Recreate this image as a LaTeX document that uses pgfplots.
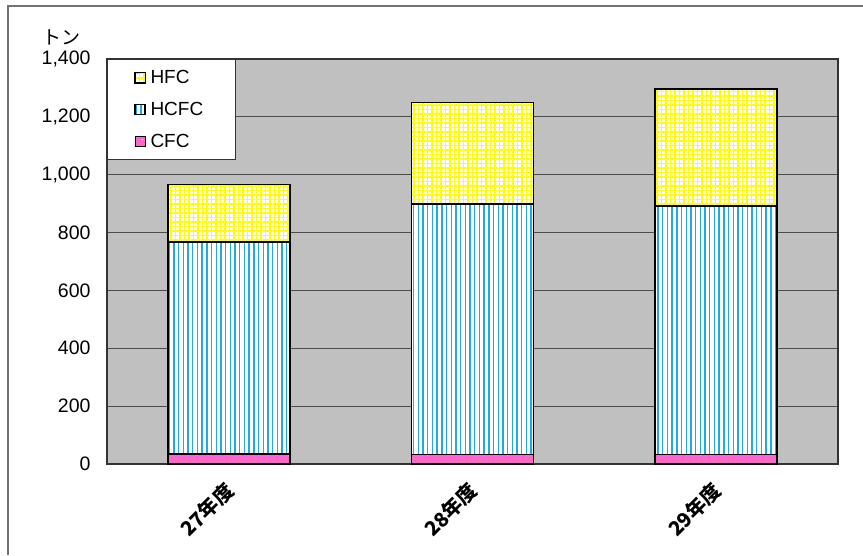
\documentclass[border=0pt]{standalone}
\usepackage{pgfplots}
\pgfplotsset{compat=1.18}
\usepackage{fontspec}
\setmainfont{Liberation Sans}
\newfontfamily\cjk{Noto Sans CJK JP}
\usetikzlibrary{patterns.meta}
\definecolor{hcfcblue}{RGB}{30,170,230}
\definecolor{cfcpink}{RGB}{255,102,204}
\definecolor{hfcyellow}{RGB}{255,255,0}
\definecolor{plotgray}{RGB}{192,192,192}

\begin{document}
\begin{tikzpicture}
\useasboundingbox (0,0) rectangle (863pt,555pt);
\draw[black!55, line width=1.5pt] (8pt,0pt) -- (8pt,549pt) -- (863pt,549pt);
\node[font=\fontsize{19}{21}\cjk] at (61pt,518pt) {トン};
\begin{axis}[
    at={(107pt,91pt)}, anchor=south west,
    width=731pt, height=405pt, scale only axis,
    ybar stacked, bar width=122pt,
    xmin=-0.5, xmax=2.5,
    ymin=0, ymax=1400,
    ytick={0,200,...,1400},
    xtick={0,1,2},
    xticklabels={27年度,28年度,29年度},
    major tick length=0pt,
    axis background/.style={fill=plotgray},
    axis line style={black!80, line width=1.5pt},
    ymajorgrids, grid style={black!70, line width=1.2pt},
    /pgf/number format/1000 sep={,},
    /pgf/number format/assume math mode=true,
    yticklabel style={font=\fontsize{19.5}{21}\selectfont, xshift=-13pt},
    xticklabel style={font=\fontsize{20}{22}\cjk\bfseries, rotate=45, anchor=east, xshift=-12pt, yshift=-17pt},
    legend style={at={(0,1)}, anchor=north west, draw=black!80, line width=1pt,
        fill=white, font=\fontsize{19}{21}\selectfont,
        inner xsep=27pt, inner ysep=9pt, row sep=13pt,
        nodes={inner xsep=5pt}},
    legend cell align=left,
    reverse legend,
    legend image code/.code={\draw[#1, draw=black, line width=1pt] (0pt,-5pt) rectangle (10pt,5pt);},
]
\addplot[draw=black, line width=1.5pt, fill=cfcpink,
    postaction={pattern={Dots[distance=13pt, radius=0.8pt]}, pattern color=white!85!cfcpink}]
    coordinates {(0,35) (1,32) (2,33)};
\addlegendentry{CFC}
\addplot[draw=black, line width=1.5pt, preaction={fill=white},
    pattern={Lines[angle=90, distance=4.7pt, line width=1.4pt]}, pattern color=hcfcblue]
    coordinates {(0,733) (1,866) (2,858)};
\addlegendentry{HCFC}
\addplot[draw=black, line width=1.5pt, preaction={fill=white},
    pattern={Hatch[angle=0, distance=4.5pt, line width=1.8pt]}, pattern color=hfcyellow]
    coordinates {(0,199) (1,352) (2,405)};
\addlegendentry{HFC}
\end{axis}
\end{tikzpicture}
\end{document}
